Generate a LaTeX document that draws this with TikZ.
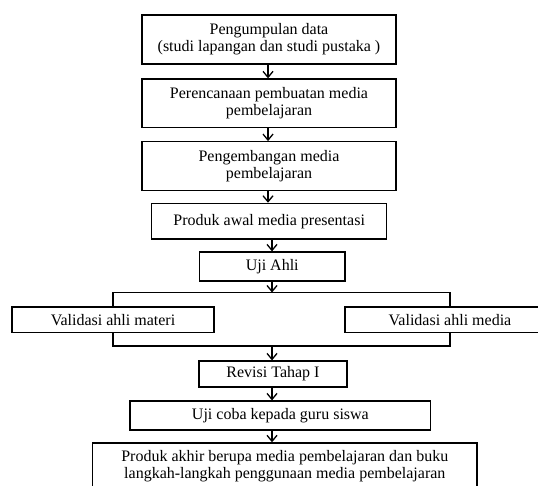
\documentclass[tikz,border=0pt]{standalone}
\usepackage{fontspec}
\setmainfont{Liberation Serif}
\usetikzlibrary{arrows.meta}
\tikzset{
  box/.style={draw, line width=1.2pt, inner sep=0pt, align=center,
    font=\fontsize{16}{17}\selectfont},
  arr/.style={line width=1.2pt, -{Straight Barb[length=6pt,width=10pt,line width=1.3pt]}},
  conn/.style={line width=1.2pt}
}
\begin{document}
\begin{tikzpicture}[x=1pt,y=-1pt]
\path[use as bounding box, clip] (0,0) rectangle (538,486);
\fill[white] (0,0) rectangle (538,486);
\node[box, minimum width=254pt, minimum height=49pt] (b1) at (269,39.5) {Pengumpulan data\\ (studi lapangan dan studi pustaka )};
\node[box, minimum width=254pt, minimum height=48.7pt] (b2) at (269,103.3) {Perencanaan pembuatan media\\pembelajaran};
\node[box, minimum width=254pt, minimum height=49pt] (b3) at (269,166.2) {Pengembangan media\\pembelajaran};
\node[box, minimum width=235pt, minimum height=35.7pt] (b4) at (269.2,221.2) {Produk awal media presentasi};
\node[box, minimum width=145.7pt, minimum height=29pt] (b5) at (272.2,266.5) {Uji Ahli};
\node[box, minimum width=202pt, minimum height=25.7pt] (L) at (113,319.9) {Validasi ahli materi};
\node[box, minimum width=210pt, minimum height=25.7pt] (R) at (450,319.9) {Validasi ahli media};
\node[box, minimum width=148pt, minimum height=26pt] (rev) at (273,374) {Revisi Tahap I};
\node[box, minimum width=300.8pt, minimum height=29pt] (uji) at (280.4,415.5) {Uji coba kepada guru siswa};
\node[box, anchor=north, minimum width=384.3pt] (fin) at (284.8,442.3)
  {\parbox[c][70pt][t]{380pt}{\centering\rule{0pt}{18.5pt}Produk akhir berupa media pembelajaran dan buku\\langkah-langkah penggunaan media pembelajaran}};
\coordinate (ax) at (268,0);
\coordinate (top) at (272,292.5);
\coordinate (bot) at (272,346);
\draw[arr] (b1.south -| ax) -- (b2.north -| ax);
\draw[arr] (b2.south -| ax) -- (b3.north -| ax);
\draw[arr] (b3.south -| ax) -- (b4.north -| ax);
\draw[arr] (b4.south -| top) -- (b5.north -| top);
\draw[arr] (b5.south -| top) -- (top);
\draw[conn] (L.north) |- (top) -| (R.north);
\draw[conn] (L.south) |- (bot) -| (R.south);
\draw[arr] (bot) -- (rev.north -| bot);
\draw[arr] (rev.south -| bot) -- (uji.north -| bot);
\draw[arr] (uji.south -| bot) -- (fin.north -| bot);
\end{tikzpicture}
\end{document}
